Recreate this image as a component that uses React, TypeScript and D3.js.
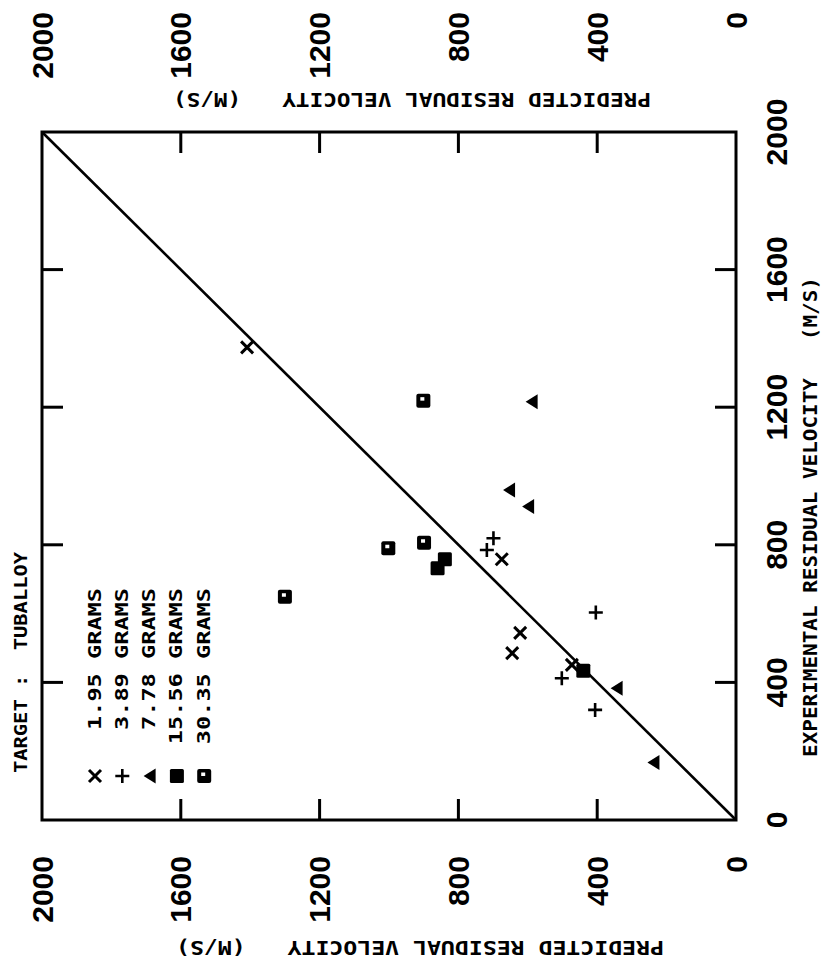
import React from "react";
import * as d3 from "d3";

const TICKS = [0, 400, 800, 1200, 1600, 2000];
const INNER_TICKS = [400, 800, 1200, 1600];

const LEGEND_LABELS = ["1.95 GRAMS", "3.89 GRAMS", "7.78 GRAMS", "15.56 GRAMS", "30.35 GRAMS"];
const TARGET_LABEL = "TARGET :  TUBALLOY";
const PRED_TITLE = "PREDICTED RESIDUAL VELOCITY   (M/S)";
const EXP_TITLE = "EXPERIMENTAL RESIDUAL VELOCITY   (M/S)";

// [experimental, predicted]
const g195: [number, number][] = [[1374, 1409], [758, 675], [544, 622], [485, 645], [451, 473]];
const g389: [number, number][] = [[819, 699], [785, 718], [603, 404], [412, 502], [320, 406]];
const g778: [number, number][] = [[1216, 589], [959, 654], [911, 599], [383, 344], [167, 238]];
const g1556: [number, number][] = [[758, 839], [732, 860], [434, 440]];
const g3035: [number, number][] = [[1219, 901], [649, 1300], [790, 1002], [806, 899]];

const SERIES = [g195, g389, g778, g1556, g3035];
const SYMBOLS = ["x", "plus", "tri", "sq", "sqdot"];

function Marker({ kind, x, y }: { kind: string; x: number; y: number }) {
  const t = `translate(${x},${y})`;
  if (kind === "x")
    return <path transform={t} d="M-6,-6L6,6M-6,6L6,-6" stroke="#000" strokeWidth={3} fill="none" />;
  if (kind === "plus")
    return <path transform={t} d="M-7,0L7,0M0,-7L0,7" stroke="#000" strokeWidth={2.6} fill="none" />;
  if (kind === "tri") return <path transform={t} d="M-6,0L6,-7.5L6,7.5Z" fill="#000" />;
  if (kind === "sq") return <rect x={x - 7} y={y - 7} width={14} height={14} fill="#000" rx={1.5} />;
  return (
    <g>
      <rect x={x - 7} y={y - 7} width={14} height={14} fill="#000" rx={2} />
      <rect x={x - 3} y={y - 3.5} width={4} height={3.5} fill="#fff" />
    </g>
  );
}

export default function App() {
  const W = 829;
  const H = 972;
  const px = d3.scaleLinear().domain([0, 2000]).range([736, 42]); // predicted (horizontal)
  const py = d3.scaleLinear().domain([0, 2000]).range([820, 132]); // experimental (vertical)

  const numFont = "'Liberation Sans', Arial, sans-serif";
  const txtFont = "'DejaVu Sans Mono', monospace";

  const [x0, x1] = [px(2000), px(0)];
  const [y0, y1] = [py(2000), py(0)];
  const tickLen = 21;

  return (
    <svg width={W} height={H} style={{ position: "absolute", left: 0, top: 0, background: "#fff" }}>
      <rect width={W} height={H} fill="#fff" />
      {/* frame */}
      <rect x={x0} y={y0} width={x1 - x0} height={y1 - y0} fill="none" stroke="#000" strokeWidth={3} />
      {/* ticks */}
      {INNER_TICKS.map((v) => (
        <g key={v} stroke="#000" strokeWidth={3}>
          <line x1={px(v)} x2={px(v)} y1={y0} y2={y0 + tickLen} />
          <line x1={px(v)} x2={px(v)} y1={y1} y2={y1 - tickLen} />
          <line x1={x0} x2={x0 + tickLen} y1={py(v)} y2={py(v)} />
          <line x1={x1} x2={x1 - tickLen} y1={py(v)} y2={py(v)} />
        </g>
      ))}
      {/* diagonal */}
      <line x1={px(0)} y1={py(0)} x2={px(2000)} y2={py(2000)} stroke="#000" strokeWidth={2.6} />

      {/* top tick labels */}
      {TICKS.map((v) => (
        <text key={"t" + v} transform={`translate(${px(v)},12) rotate(-90)`} textAnchor="end" dominantBaseline="central"
          fontFamily={numFont} fontSize={30} fontWeight="bold">{v}</text>
      ))}
      {/* bottom tick labels */}
      {TICKS.map((v) => (
        <text key={"b" + v} transform={`translate(${px(v)},856) rotate(-90)`} textAnchor="end" dominantBaseline="central"
          fontFamily={numFont} fontSize={30} fontWeight="bold">{v}</text>
      ))}
      {/* right tick labels */}
      {TICKS.map((v) => (
        <text key={"r" + v} transform={`translate(776,${py(v)}) rotate(-90)`} textAnchor="middle" dominantBaseline="central"
          fontFamily={numFont} fontSize={30} fontWeight="bold">{v}</text>
      ))}

      {/* titles */}
      <text transform="translate(412,100) rotate(180)" textAnchor="middle" dominantBaseline="central"
        fontFamily={txtFont} fontSize={19} fontWeight="bold" textLength={478} lengthAdjust="spacingAndGlyphs"
        style={{ whiteSpace: "pre" }}>{PRED_TITLE}</text>
      <text transform="translate(420,948) rotate(180)" textAnchor="middle" dominantBaseline="central"
        fontFamily={txtFont} fontSize={19} fontWeight="bold" textLength={488} lengthAdjust="spacingAndGlyphs"
        style={{ whiteSpace: "pre" }}>{PRED_TITLE}</text>
      <text transform="translate(810,757) rotate(-90)" textAnchor="start" dominantBaseline="central"
        fontFamily={txtFont} fontSize={19} fontWeight="bold" textLength={480} lengthAdjust="spacingAndGlyphs"
        style={{ whiteSpace: "pre" }}>{EXP_TITLE}</text>
      <text transform="translate(20,773) rotate(-90)" textAnchor="start" dominantBaseline="central"
        fontFamily={txtFont} fontSize={18} fontWeight="bold" textLength={221} lengthAdjust="spacingAndGlyphs"
        style={{ whiteSpace: "pre" }}>{TARGET_LABEL}</text>

      {/* legend */}
      {LEGEND_LABELS.map((lab, i) => {
        const lx = 95 + i * 27.3;
        return (
          <g key={lab}>
            <Marker kind={SYMBOLS[i]} x={lx} y={776} />
            <text transform={`translate(${lx - 1},588) rotate(-90)`} textAnchor="end" dominantBaseline="central"
              fontFamily={txtFont} fontSize={18} fontWeight="bold" textLength={lab.length * 14.2}
              lengthAdjust="spacingAndGlyphs">{lab}</text>
          </g>
        );
      })}

      {/* data */}
      {SERIES.map((s, i) =>
        s.map(([e, p], j) => <Marker key={i + "-" + j} kind={SYMBOLS[i]} x={px(p)} y={py(e)} />)
      )}
    </svg>
  );
}
